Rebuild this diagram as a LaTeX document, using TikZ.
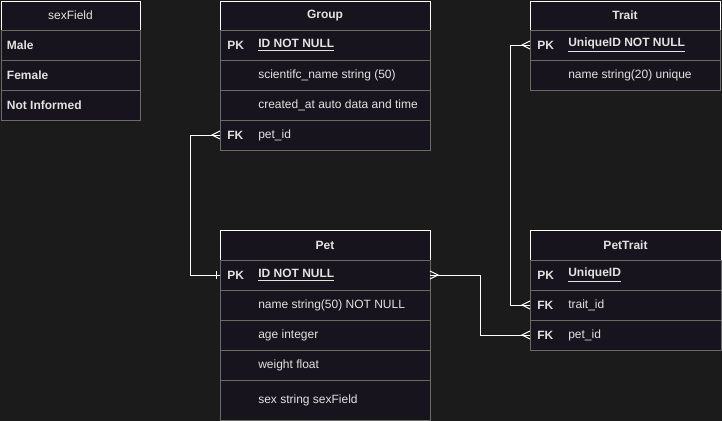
\documentclass[tikz,border=0pt]{standalone}
\usepackage{fontspec}
\setmainfont{Liberation Sans}
\usepackage{tikz}
\usetikzlibrary{positioning,calc}

\definecolor{bg}{HTML}{1B1B1B}
\definecolor{cell}{HTML}{18141D}
\definecolor{edge}{HTML}{6A6A6A}
\definecolor{ink}{HTML}{E2E2E2}

\tikzset{
	head/.style={draw=white,fill=cell,text=ink,font=\fontsize{9pt}{11pt}\selectfont\bfseries,
		anchor=north west,minimum height=22.5pt,inner sep=0pt,outer sep=0pt},
	row/.style={draw=edge,fill=cell,minimum height=22.5pt,inner sep=0pt,outer sep=0pt},
	key/.style={anchor=west,xshift=5.25pt,text=ink,inner sep=0pt,font=\fontsize{9pt}{11pt}\selectfont\bfseries},
	field/.style={anchor=west,xshift=28.5pt,text=ink,inner sep=0pt,font=\fontsize{9pt}{11pt}\selectfont},
	conn/.style={draw=white,line width=0.75pt},
	many/.pic={\draw[conn] (0,3pt) -- (-6pt,0) -- (0,-3pt);},
	one/.pic={\draw[conn] (-3pt,3pt) -- (-3pt,-3pt);}
}

\begin{document}
\begin{tikzpicture}
	\fill[bg] (0,0) rectangle (541.5pt,-315.75pt);
	\useasboundingbox (0,0) rectangle (541.5pt,-315.75pt);

	% sexField
	\node[head,minimum width=104.25pt,minimum height=21.75pt,font=\fontsize{9pt}{11pt}\selectfont](sexHead) at (0.75pt,-0.75pt) {sexField};
	\node[row,minimum width=104.25pt,below=0pt of sexHead](sexMale) {};
	\node[row,minimum width=104.25pt,below=0pt of sexMale](sexFemale) {};
	\node[row,minimum width=104.25pt,below=0pt of sexFemale](sexNone) {};
	\node[key,xshift=-1pt](sexMaleT) at (sexMale.west) {Male};
	\node[key,xshift=-1pt](sexFemaleT) at (sexFemale.west) {Female};
	\node[key,xshift=-1pt](sexNoneT) at (sexNone.west) {Not Informed};

	% Group
	\node[head,minimum width=157.5pt,minimum height=21.75pt](grpHead) at (165pt,-0.75pt) {Group};
	\node[row,minimum width=157.5pt,below=0pt of grpHead](grpPK) {};
	\node[row,minimum width=157.5pt,below=0pt of grpPK](grpName) {};
	\node[row,minimum width=157.5pt,below=0pt of grpName](grpDate) {};
	\node[row,minimum width=157.5pt,below=0pt of grpDate](grpFK) {};
	\node[key](grpPKk) at (grpPK.west) {PK};
	\node[field,font=\fontsize{9pt}{11pt}\selectfont\bfseries](grpPKf) at (grpPK.west) {\underline{ID NOT NULL}};
	\node[field](grpNamef) at (grpName.west) {scientifc\_name string (50)};
	\node[field](grpDatef) at (grpDate.west) {created\_at auto data and time};
	\node[key](grpFKk) at (grpFK.west) {FK};
	\node[field](grpFKf) at (grpFK.west) {pet\_id};

	% Trait
	\node[head,minimum width=142.5pt,minimum height=21.75pt](trtHead) at (397.5pt,-0.75pt) {Trait};
	\node[row,minimum width=142.5pt,below=0pt of trtHead](trtPK) {};
	\node[row,minimum width=142.5pt,below=0pt of trtPK](trtName) {};
	\node[key](trtPKk) at (trtPK.west) {PK};
	\node[field,font=\fontsize{9pt}{11pt}\selectfont\bfseries](trtPKf) at (trtPK.west) {\underline{UniqueID NOT NULL}};
	\node[field](trtNamef) at (trtName.west) {name string(20) unique};

	% Pet
	\node[head,minimum width=157.5pt](petHead) at (165pt,-172.5pt) {Pet};
	\node[row,minimum width=157.5pt,below=0pt of petHead](petPK) {};
	\node[row,minimum width=157.5pt,below=0pt of petPK](petName) {};
	\node[row,minimum width=157.5pt,below=0pt of petName](petAge) {};
	\node[row,minimum width=157.5pt,below=0pt of petAge](petWeight) {};
	\node[row,minimum width=157.5pt,minimum height=30pt,below=0pt of petWeight](petSex) {};
	\node[key](petPKk) at (petPK.west) {PK};
	\node[field,font=\fontsize{9pt}{11pt}\selectfont\bfseries](petPKf) at (petPK.west) {\underline{ID NOT NULL}};
	\node[field](petNamef) at (petName.west) {name string(50) NOT NULL};
	\node[field](petAgef) at (petAge.west) {age integer};
	\node[field](petWeightf) at (petWeight.west) {weight float};
	\node[field](petSexf) at (petSex.west) {sex string sexField};

	% PetTrait
	\node[head,minimum width=143.25pt](ptHead) at (397.5pt,-172.5pt) {PetTrait};
	\node[row,minimum width=143.25pt,below=0pt of ptHead](ptPK) {};
	\node[row,minimum width=143.25pt,below=0pt of ptPK](ptTrait) {};
	\node[row,minimum width=143.25pt,below=0pt of ptTrait](ptPet) {};
	\node[key](ptPKk) at (ptPK.west) {PK};
	\node[field,font=\fontsize{9pt}{11pt}\selectfont\bfseries](ptPKf) at (ptPK.west) {\underline{UniqueID}};
	\node[key](ptTraitk) at (ptTrait.west) {FK};
	\node[field](ptTraitf) at (ptTrait.west) {trait\_id};
	\node[key](ptPetk) at (ptPet.west) {FK};
	\node[field](ptPetf) at (ptPet.west) {pet\_id};

	% relations
	\draw[conn] (grpFK.west) -- ++(-22.5pt,0) |- (petPK.west);
	\draw[conn] (petPK.east) -- ++(37.5pt,0) |- (ptPet.west);
	\draw[conn] (trtPK.west) -- ++(-15pt,0) |- (ptTrait.west);
	\pic at (grpFK.west) {many};
	\pic at (petPK.west) {one};
	\pic[xscale=-1] at (petPK.east) {many};
	\pic at (ptPet.west) {many};
	\pic at (trtPK.west) {many};
	\pic at (ptTrait.west) {many};
\end{tikzpicture}
\end{document}
